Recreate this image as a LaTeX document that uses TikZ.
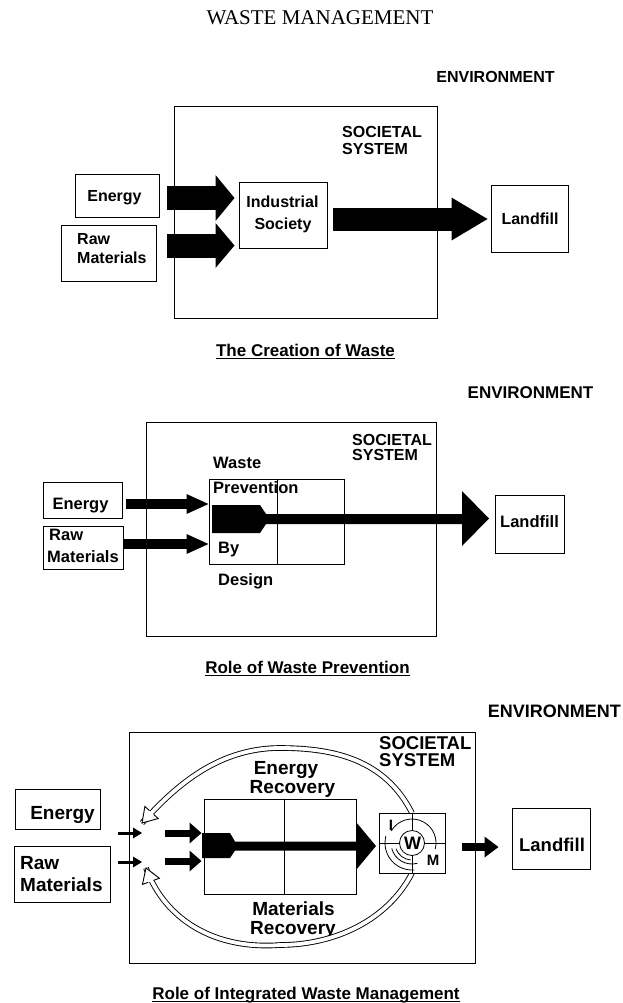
\documentclass[tikz,border=0pt]{standalone}
\usepackage{fontspec}
\setmainfont{Liberation Serif}
\newfontfamily\hv{Liberation Sans}
\usetikzlibrary{arrows.meta,decorations.markings}
\newcommand\sz[1]{\hv\bfseries\fontsize{#1}{#1}\selectfont}
\begin{document}
\begin{tikzpicture}[x=1pt,y=-1pt,
  bx/.style={draw, line width=1pt, inner sep=0pt},
  tx/.style={inner sep=0pt, anchor=base, font=\sz{#1}},
  txl/.style={inner sep=0pt, anchor=base west, font=\sz{#1}},
  blk/.style n args={3}{line width=#1, -{Triangle[length=#2, width=#3, line width=0pt]}},
  uline/.style={line width=1pt},
  hollow/.style={draw=black, line width=5.6pt,
    postaction={draw=white, line width=3.8pt},
    postaction={decorate, decoration={markings, mark=at position -0.2pt with {
      \fill[white] (0.2pt,0) -- (-14pt,9pt) -- (-14pt,-9pt) -- cycle;
      \draw[black, line width=0.9pt, line join=miter] (-14pt,2.8pt) -- (-14pt,9pt) -- (0.2pt,0) -- (-14pt,-9pt) -- (-14pt,-2.8pt);}}}},
  thinl/.style={line width=0.8pt}
]
\fill[white] (0,0) rectangle (622,1003);
\useasboundingbox (0,0) rectangle (622,1003);

% ---------- title ----------
\node[inner sep=0pt, anchor=base, font=\fontsize{21}{21}\selectfont] (title) at (320,25) {WASTE MANAGEMENT};

% ================= Panel 1 =================
\node[tx=16] (env1) at (495.5,82.7) {ENVIRONMENT};
\node[bx, minimum width=263pt, minimum height=211pt] (soc1) at (305.5,212.5) {};
\node[txl=16] (soc1a) at (342,137.7) {SOCIETAL};
\node[txl=16] (soc1b) at (342,154.7) {SYSTEM};
\node[bx, minimum width=84pt, minimum height=42pt] (en1) at (117,196) {};
\node[tx=16] (en1t) at (114.5,201.4) {Energy};
\node[bx, minimum width=95pt, minimum height=56pt] (raw1) at (108.5,253) {};
\node[txl=16] (raw1a) at (77,244.7) {Raw};
\node[txl=16] (raw1b) at (77,263.7) {Materials};
\node[bx, minimum width=88pt, minimum height=65pt] (ind1) at (283,215.5) {};
\node[tx=16] (ind1a) at (282.5,207.7) {Industrial};
\node[tx=16] (ind1b) at (283,229.7) {Society};
\node[bx, minimum width=77pt, minimum height=66pt] (land1) at (529.5,219) {};
\node[tx=16] (land1t) at (530,224.7) {Landfill};

\coordinate (a1e) at (167,198);
\coordinate (a1r) at (167,245.5);
\coordinate (a1o) at (333,219);
\draw[blk={23pt}{19pt}{46pt}, shorten >=4pt] (a1e) -- (a1e -| ind1.west);
\draw[blk={24pt}{19pt}{45pt}, shorten >=4pt] (a1r) -- (a1r -| ind1.west);
\draw[blk={23pt}{36pt}{43pt}, shorten >=3pt] (a1o) -- (a1o -| land1.west);

\node[tx=17] (cap1) at (305.5,356) {The Creation of Waste};
\draw[uline] ([yshift=-2.5pt]cap1.base west) -- ([yshift=-2.5pt]cap1.base east);

% ================= Panel 2 =================
\node[tx=17] (env2) at (530.5,398.1) {ENVIRONMENT};
\node[bx, minimum width=290pt, minimum height=214pt] (soc2) at (291,529) {};
\node[txl=16] (soc2a) at (352,445.7) {SOCIETAL};
\node[txl=16] (soc2b) at (352,460.7) {SYSTEM};
\node[bx, minimum width=79pt, minimum height=36pt] (en2) at (82.5,500) {};
\node[tx=16.5] (en2t) at (80.5,509.9) {Energy};
\node[bx, minimum width=80pt, minimum height=43pt] (raw2) at (83,547.5) {};
\node[txl=16.5] (raw2a) at (49,540.9) {Raw};
\node[txl=16.5] (raw2b) at (47,562.9) {Materials};
\node[bx, minimum width=135pt, minimum height=85pt] (wp2) at (276.5,521.5) {};
\draw[thinl] ([xshift=69pt]wp2.north west) -- ([xshift=69pt]wp2.south west);
\node[txl=16.5] (wp2a) at (213,468.9) {Waste};
\node[txl=16.5] (wp2b) at (213,493.9) {Prevention};
\node[txl=16.5] (wp2c) at (218,553.9) {By};
\node[txl=16.5] (wp2d) at (218,585.9) {Design};
\node[bx, minimum width=69pt, minimum height=58pt] (land2) at (529.5,524) {};
\node[tx=16.5] (land2t) at (529.5,527.9) {Landfill};

\coordinate (a2e) at (126,504);
\coordinate (a2r) at (124,544);
\draw[blk={10pt}{22pt}{20pt}] (a2e) -- (a2e -| wp2.west);
\draw[blk={10pt}{22pt}{20pt}] (a2r) -- (a2r -| wp2.west);
\fill (212,505) -- (260,505) -- (266,514) -- (462,514) -- (462,491) -- (489,518.5)
  -- (462,546) -- (462,524) -- (266,524) -- (260,533) -- (212,533) -- cycle;

\node[tx=17] (cap2) at (307.5,673) {Role of Waste Prevention};
\draw[uline] ([yshift=-2.5pt]cap2.base west) -- ([yshift=-2.5pt]cap2.base east);

% ================= Panel 3 =================
\node[inner sep=0pt, anchor=base east, font=\sz{18}] (env3) at (621,717.4) {ENVIRONMENT};
\node[bx, minimum width=346pt, minimum height=231pt] (soc3) at (302,847.5) {};
\node[txl=18.5] (soc3a) at (379,749) {SOCIETAL};
\node[txl=18.5] (soc3b) at (379,766) {SYSTEM};
\node[bx, minimum width=85pt, minimum height=40pt] (en3) at (57.5,809) {};
\node[tx=19] (en3t) at (62.5,819.8) {Energy};
\node[bx, minimum width=96pt, minimum height=56pt] (raw3) at (62,874) {};
\node[txl=19] (raw3a) at (20,869.8) {Raw};
\node[txl=19] (raw3b) at (20,891.8) {Materials};
\node[bx, minimum width=152pt, minimum height=95pt] (iw3) at (280,846.5) {};
\draw[thinl] ([xshift=81pt]iw3.north west) -- ([xshift=81pt]iw3.south west);
\node[tx=19] (er3a) at (286,774.8) {Energy};
\node[tx=19] (er3b) at (292.5,793.8) {Recovery};
\node[tx=19] (mr3a) at (293.5,915.8) {Materials};
\node[tx=19] (mr3b) at (293,934.8) {Recovery};
\node[bx, minimum width=78pt, minimum height=61pt] (land3) at (551,838.5) {};
\node[tx=18.5] (land3t) at (552,851.4) {Landfill};

% recovery loops
\coordinate (iwmc) at (412,843);
\coordinate (h3t) at (142,823);
\coordinate (h3b) at (146,868);
\path[hollow] (412,813) .. controls (385,760) and (335,748) .. (280,748)
  .. controls (215,748) and (172,790) .. (h3t);
\path[hollow] (412,873) .. controls (388,920) and (335,945) .. (280,945)
  .. controls (215,950) and (165,920) .. (h3b);

% IWM symbol
\node[bx, fill=white, minimum width=66pt, minimum height=60pt] (iwm3) at (iwmc) {};
\draw[thinl] (iwm3.west) -- (iwm3.east);
\draw[thinl] (iwm3.north) -- (iwm3.south);
\draw[thinl] (iwmc) ++(-150:24) arc[start angle=-150, end angle=15, radius=24];
\draw[thinl] (iwmc) ++(-165:27) arc[start angle=-165, end angle=-275, radius=27];
\draw[thinl] (iwmc) ++(-195:21) arc[start angle=-195, end angle=-285, radius=21];
\draw[thinl] (iwmc) ++(-200:17) arc[start angle=-200, end angle=-265, radius=17];
\draw[thinl, fill=white] (iwmc) circle[radius=12.5];
\node[tx=18] (w3) at (412.7,849) {W};
\node[tx=15] (i3) at (391,830.5) {I};
\node[tx=15] (m3) at (433,865.5) {M};

% arrows
\coordinate (t3e) at (118,833);
\coordinate (t3r) at (118,862);
\draw[blk={3pt}{9pt}{11pt}] (t3e) -- ++(24,0);
\draw[blk={3pt}{9pt}{11pt}] (t3r) -- ++(24,0);
\coordinate (k3e) at (165,833);
\coordinate (k3r) at (165,861);
\draw[blk={7pt}{12pt}{21pt}, shorten >=2pt] (k3e) -- (k3e -| iw3.west);
\draw[blk={7pt}{12pt}{21pt}, shorten >=2pt] (k3r) -- (k3r -| iw3.west);
\fill (202,833) -- (230,833) -- (235,841.5) -- (356,841.5) -- (356,822) -- (376,846)
  -- (356,870) -- (356,850.5) -- (235,850.5) -- (230,858) -- (202,858) -- cycle;
\coordinate (l3a) at (462,847);
\draw[blk={8.5pt}{14pt}{21pt}, shorten >=13pt] (l3a) -- (l3a -| land3.west);

\node[tx=17] (cap3) at (306,999) {Role of Integrated Waste Management};
\draw[uline] ([yshift=-2.2pt]cap3.base west) -- ([yshift=-2.2pt]cap3.base east);
\end{tikzpicture}
\end{document}
